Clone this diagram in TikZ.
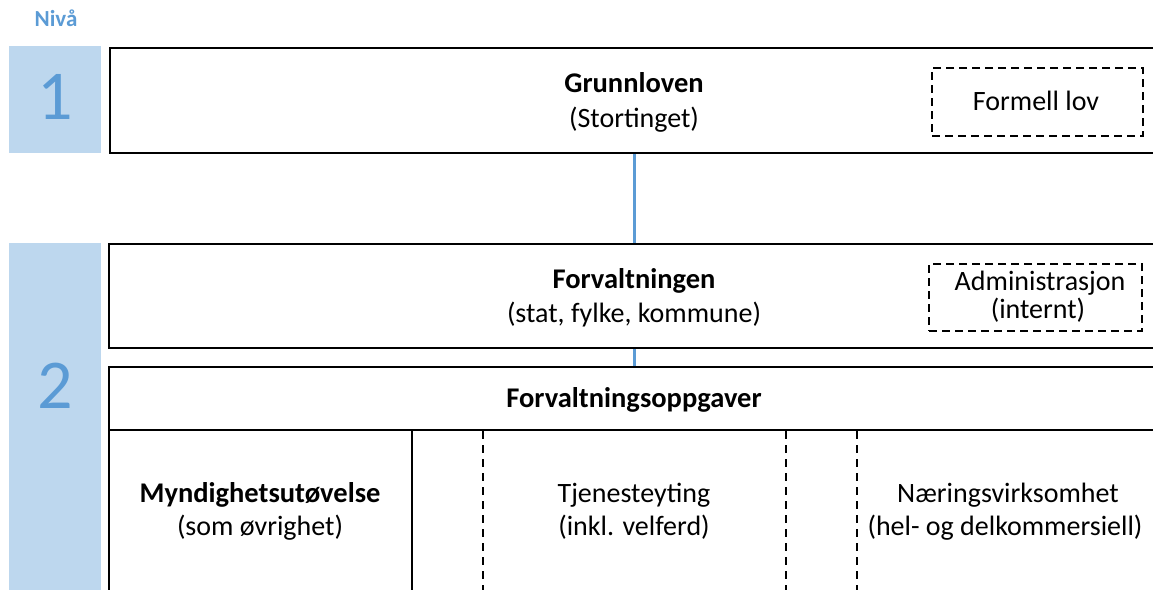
\documentclass[tikz,border=0pt]{standalone}
\usepackage{fontspec}
\setmainfont{Carlito}
\definecolor{lightblue}{HTML}{BDD7EE}
\definecolor{midblue}{HTML}{5B9BD5}
\tikzset{
  levelbox/.style={fill=lightblue, draw=none, inner sep=0pt, anchor=north west},
  levelnum/.style={text=midblue, font=\fontsize{70}{70}\selectfont, anchor=base, inner sep=0pt},
  mainbox/.style={draw=black, line width=2.4pt, inner sep=0pt, anchor=north west},
  dashbox/.style={draw=black, line width=2pt, dash pattern=on 8pt off 5pt, inner sep=0pt, anchor=north west},
  title/.style={font=\fontsize{28.5}{28.5}\selectfont\bfseries, anchor=base, inner sep=0pt},
  sub/.style={font=\fontsize{28}{28}\selectfont, anchor=base, inner sep=0pt},
  conn/.style={draw=midblue, line width=3pt},
  divsolid/.style={draw=black, line width=2pt},
  divdash/.style={draw=black, line width=2pt, dash pattern=on 8pt off 6pt},
}
\begin{document}
\begin{tikzpicture}[x=1pt, y=-1pt]
\useasboundingbox (0,0) rectangle (1153,589);
\clip (0,0) rectangle (1153,589);
% level label
\node[font=\fontsize{23}{23}\selectfont\bfseries, text=midblue, anchor=base, inner sep=0pt] (niva) at (56,26) {Nivå};
% level boxes
\node[levelbox, minimum width=92pt, minimum height=107pt] (lev1) at (9,46) {};
\node[levelnum] (num1) at (55,119) {1};
\node[levelbox, minimum width=92pt, minimum height=360pt] (lev2) at (9,243) {};
\node[levelnum] (num2) at (55,408) {2};
% main boxes
\node[mainbox, minimum width=1070pt, minimum height=105pt] (grunn) at (109,47) {};
\node[mainbox, minimum width=1070pt, minimum height=104pt] (forv) at (108,243) {};
\node[mainbox, minimum width=1070pt, minimum height=63pt] (oppg) at (108,366) {};
\node[mainbox, minimum width=1070pt, minimum height=200pt] (lower) at (108,429) {};
% dashed boxes
\node[dashbox, minimum width=211pt, minimum height=68pt] (formell) at (931,67) {};
\node[dashbox, minimum width=213pt, minimum height=67pt] (admin) at (928,263) {};
% connectors
\coordinate (cx) at (634,0);
\draw[conn] (grunn.south -| cx) -- (forv.north -| cx);
\draw[conn] (forv.south -| cx) -- (oppg.north -| cx);
% dividers
\coordinate (d1) at (412,0);
\coordinate (d2) at (483,0);
\coordinate (d3) at (786,0);
\coordinate (d4) at (857,0);
\draw[divsolid] (lower.north -| d1) -- (lower.south -| d1);
\draw[divdash] (lower.north -| d2) ++(0,2) -- (lower.south -| d2);
\draw[divdash] (lower.north -| d3) ++(0,2) -- (lower.south -| d3);
\draw[divdash] (lower.north -| d4) ++(0,2) -- (lower.south -| d4);
% texts
\node[title] (t1) at (634,92) {Grunnloven};
\node[sub] (s1) at (634,127) {(Stortinget)};
\node[sub] (f1) at (1036,110) {Formell lov};
\node[title] (t2) at (634,288) {Forvaltningen};
\node[sub] (s2) at (634,322) {(stat, fylke, kommune)};
\node[sub] (a1) at (1040,290) {Administrasjon};
\node[sub] (a2) at (1038,318) {(internt)};
\node[title] (t3) at (634,407) {Forvaltningsoppgaver};
\node[title] (m1) at (260,502) {Myndighetsutøvelse};
\node[sub] (m2) at (260,535) {(som øvrighet)};
\node[sub] (j1) at (634,502) {Tjenesteyting};
\node[sub] (j2) at (634,535) {(inkl. velferd)};
\node[sub] (n1) at (1008,502) {Næringsvirksomhet};
\node[sub] (n2) at (1005,535) {(hel- og delkommersiell)};
\end{tikzpicture}
\end{document}
